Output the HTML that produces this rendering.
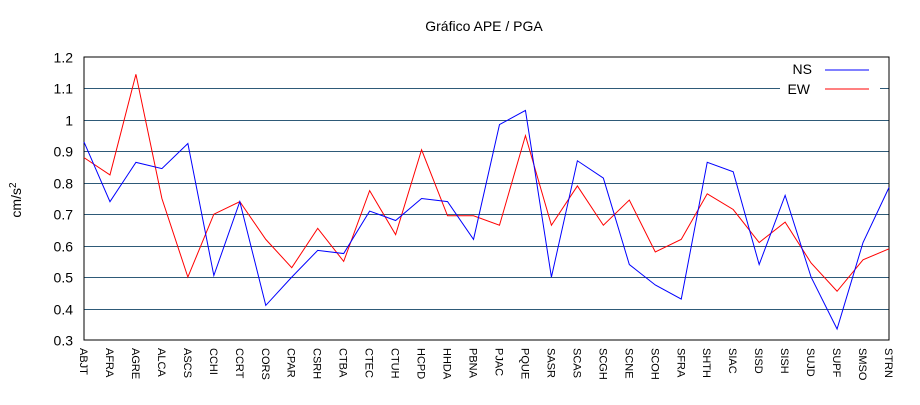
<!DOCTYPE html>
<html><head><meta charset="utf-8"><style>
body{margin:0;background:#fff;}
svg text{font-family:"Liberation Sans",sans-serif;fill:#000;}
</style></head><body>
<svg id="chart" width="920" height="400">
<text x="484" y="31" font-size="14" text-anchor="middle">Gráfico  APE / PGA</text>
<text transform="translate(21,200) rotate(-90)" font-size="14" text-anchor="middle">cm/s<tspan dy="-5" font-size="10">2</tspan></text>
<g id="grid"></g><g id="yticks"></g><g id="xticks"></g>
<rect x="84" y="57" width="805" height="283" fill="none" stroke="#000" stroke-width="1"/>
<g id="series"></g>
<g>
<rect x="780" y="60" width="100" height="38" fill="#fff"/>
<text x="812" y="74" font-size="14" text-anchor="end">NS</text>
<line x1="825" y1="70" x2="869" y2="70" stroke="#00f"/>
<text x="810" y="94" font-size="14" text-anchor="end">EW</text>
<line x1="825" y1="89" x2="869" y2="89" stroke="#f00"/>
</g>
</svg>
<script>
const categories=["ABJT","AFRA","AGRE","ALCA","ASCS","CCHI","CCRT","CORS","CPAR","CSRH","CTBA","CTEC","CTUH","HCPD","HHDA","PBNA","PJAC","PQUE","SASR","SCAS","SCGH","SCNE","SCOH","SFRA","SHTH","SIAC","SISD","SISH","SUJD","SUPF","SMSO","STRN"];
const nsValues=[0.93,0.74,0.865,0.845,0.925,0.505,0.74,0.41,0.50,0.585,0.575,0.71,0.68,0.75,0.74,0.62,0.985,1.03,0.50,0.87,0.815,0.54,0.475,0.43,0.865,0.835,0.54,0.76,0.50,0.335,0.61,0.785];
const ewValues=[0.88,0.825,1.145,0.75,0.50,0.70,0.74,0.62,0.53,0.655,0.55,0.775,0.635,0.905,0.695,0.695,0.665,0.95,0.665,0.79,0.665,0.745,0.58,0.62,0.765,0.715,0.61,0.675,0.545,0.455,0.555,0.59];
const yTicks=[0.3,0.4,0.5,0.6,0.7,0.8,0.9,1,1.1,1.2];
const NS="http://www.w3.org/2000/svg";
const X0=84,X1=889,Y0=340,Y1=57,YMIN=0.3,YMAX=1.2;
const xs=i=>X0+i*(X1-X0)/(categories.length-1);
const ys=v=>Y0-(v-YMIN)/(YMAX-YMIN)*(Y0-Y1);
function mk(t,a,p){const e=document.createElementNS(NS,t);for(const k in a)e.setAttribute(k,a[k]);p.appendChild(e);return e;}
const grid=document.getElementById('grid'),yt=document.getElementById('yticks'),xt=document.getElementById('xticks'),se=document.getElementById('series');
yTicks.forEach(v=>{
 const y=Math.round(ys(v))+0.5;
 if(v>YMIN&&v<YMAX){const l=mk('line',{x1:X0,x2:X1,y1:y,y2:y,stroke:'#2e5a78','stroke-width':1},grid);
 
 }
 const t=mk('text',{x:73,y:y+5,'font-size':14,'text-anchor':'end'},yt);
 t.textContent=String(v);
 
 
});
categories.forEach((c,i)=>{
 const x=xs(i);
 const t=mk('text',{transform:`translate(${x-4},348) rotate(90)`,'font-size':11},xt);
 t.textContent=c;
 
 
});
function line(vals,color,name){
 const p=mk('polyline',{points:vals.map((v,i)=>xs(i)+','+ys(v)).join(' '),fill:'none',stroke:color,'stroke-width':1},se);
 
 
}
line(ewValues,'#f00','series-ew');
line(nsValues,'#00f','series-ns');
</script>
</body></html>
